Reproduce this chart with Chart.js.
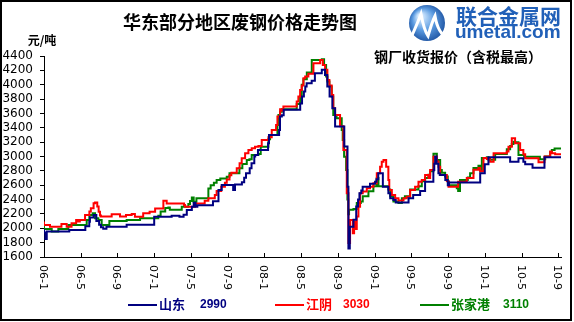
<!DOCTYPE html>
<html>
<head>
<meta charset="utf-8">
<script src="https://cdn.jsdelivr.net/npm/chart.js@4"></script>
<style>
  html, body { margin: 0; padding: 0; background: #fff; }
  canvas { display: block; }
</style>
</head>
<body>
<canvas id="c" width="574" height="322"></canvas>
<script>
// x = months since 2006-01, y = price (元/吨); each point starts a new step level
const xTickLabels = ['06-1', '06-5', '06-9', '07-1', '07-5', '07-9', '08-1', '08-5', '08-9',
    '09-1', '09-5', '09-9', '10-1', '10-5', '10-9'];

const shandong = [
    [0, 1990], [0.15, 1940], [0.3, 1850], [2.75, 1955], [4.5, 1975], [4.93, 2030], [5.0, 2090],
    [5.4, 2150], [5.7, 2185], [6.0, 2100], [6.2, 2050], [6.45, 2015], [6.8, 1995], [9.0, 2022],
    [12.0, 2050], [13.9, 2160], [14.75, 2175], [15.2, 2160], [15.55, 2190], [16.1, 2255],
    [16.3, 2300], [16.5, 2355], [16.7, 2300], [18.4, 2320], [19.0, 2375], [19.35, 2533],
    [20.6, 2603], [20.8, 2533], [21.55, 2610], [21.8, 2640], [22.0, 2705], [22.4, 2766],
    [22.6, 2835], [22.9, 2905], [23.0, 3000], [23.3, 3021], [24.4, 3091], [24.5, 3184],
    [25.6, 3300], [25.7, 3370], [25.9, 3556], [26.1, 3575], [27.9, 3650], [28.1, 3740],
    [28.3, 3835], [28.45, 3905], [28.6, 3975], [29.15, 4020], [29.5, 4055], [30.25, 4160],
    [30.6, 4207], [30.85, 4137], [31.1, 3974], [31.4, 3835], [31.7, 3672], [32.7, 3419],
    [33.05, 3138], [33.15, 2580], [33.3, 1720], [33.7, 2023], [34.0, 2120], [34.2, 2302],
    [34.35, 2400], [34.55, 2488], [34.7, 2525], [35.5, 2580], [36.05, 2620], [36.2, 2649],
    [36.4, 2682], [36.9, 2766], [37.5, 2580], [37.7, 2488], [38.05, 2420], [38.3, 2395],
    [39.7, 2358], [40.2, 2420], [40.96, 2463], [41.5, 2520], [42.4, 2650], [42.5, 2812],
    [42.6, 2900], [42.75, 3000], [42.95, 2900], [43.1, 2766], [43.7, 2742], [43.97, 2672],
    [44.1, 2600], [47.5, 2637], [48.0, 2765], [48.4, 2891], [50.76, 2988], [51.67, 2928],
    [52.2, 2974], [52.4, 2928], [53.2, 2891], [54.5, 2845], [55.66, 2990], [56.3, 2990]
];

const jiangyin = [
    [0, 2093], [0.65, 2047], [1.9, 2023], [2.47, 2060], [3.0, 2023], [3.5, 2070], [3.7, 2116],
    [3.9, 2093], [4.47, 2116], [4.94, 2186], [5.1, 2233], [5.4, 2279], [5.56, 2349], [5.8, 2358],
    [5.95, 2302], [6.1, 2230], [6.2, 2177], [7.37, 2163], [8.28, 2195], [8.93, 2163],
    [9.55, 2186], [9.9, 2200], [10.8, 2161], [11.5, 2208], [12.1, 2231], [13.0, 2277],
    [13.36, 2384], [15.25, 2347], [15.35, 2324], [16.45, 2300], [17.5, 2347], [17.9, 2384],
    [18.6, 2420], [18.8, 2465], [19.3, 2520], [19.7, 2580], [19.9, 2635], [20.2, 2680],
    [20.4, 2738], [20.99, 2775], [21.3, 2835], [21.53, 2905], [21.9, 2975], [22.26, 3044],
    [22.62, 3091], [22.98, 3114], [23.35, 3137], [23.71, 3147], [24.44, 3230], [24.8, 3267],
    [25.27, 3370], [25.42, 3440], [25.71, 3556], [25.89, 3658], [26.07, 3639], [27.52, 3695],
    [27.7, 3765], [27.89, 3835], [28.07, 3928], [28.25, 3990], [28.44, 4091], [28.79, 4114],
    [29.34, 4151], [30.07, 4300], [30.36, 4346], [30.61, 4276], [30.86, 4207], [31.08, 4067],
    [31.33, 3990], [31.5, 3858], [31.7, 3672], [32.24, 3579], [32.6, 3420], [32.97, 3091],
    [33.15, 2488], [33.33, 1795], [33.63, 2116], [33.77, 1930], [33.88, 2093], [34.06, 1990],
    [34.24, 2163], [34.42, 2300], [34.71, 2488], [35.15, 2511], [35.5, 2557], [35.87, 2580],
    [36.24, 2626], [36.6, 2766], [36.78, 2858], [36.97, 2928], [37.26, 2951], [37.5, 2858],
    [37.6, 2672], [37.88, 2534], [38.24, 2463], [38.6, 2417], [39.15, 2386], [39.5, 2417],
    [39.87, 2440], [40.41, 2534], [40.78, 2580], [41.14, 2649], [41.5, 2672], [41.87, 2742],
    [42.05, 2700], [42.41, 2812], [42.78, 2998], [42.96, 2930], [43.14, 2858], [43.5, 2742],
    [43.87, 2742], [44.05, 2658], [45.1, 2579], [46.04, 2649], [46.77, 2700], [47.31, 2816],
    [47.5, 2840], [47.86, 2793], [48.22, 2979], [48.58, 2965], [48.96, 2928], [50.4, 3044],
    [50.58, 3068], [50.94, 3137], [51.3, 3253], [51.85, 3183], [52.2, 3090], [52.4, 3030],
    [53.85, 2975], [54.5, 2919], [55.12, 3000], [55.3, 3068], [55.66, 3044], [55.8, 3030],
    [56.3, 3030]
];

const zhangjiagang = [
    [0, 2047], [0.84, 1991], [1.56, 1954], [2.65, 1991], [4.65, 2047], [4.94, 2116], [5.3, 2186],
    [5.56, 2209], [5.92, 2140], [6.28, 2116], [7.12, 2047], [9.0, 2102], [10.46, 2115],
    [12.45, 2140], [12.7, 2175], [13.2, 2235], [13.54, 2282], [13.7, 2291], [15.0, 2258],
    [15.72, 2300], [15.9, 2340], [16.1, 2380], [16.3, 2429], [16.6, 2370], [17.9, 2420],
    [18.15, 2555], [18.5, 2600], [18.8, 2635], [19.2, 2672], [19.9, 2695], [20.2, 2718],
    [21.28, 2765], [21.6, 2835], [22.08, 2896], [22.37, 2951], [22.62, 2960], [23.35, 3021],
    [23.6, 3035], [24.44, 3137], [24.62, 3239], [25.42, 3300], [25.53, 3440], [25.71, 3579],
    [25.89, 3625], [27.52, 3658], [27.89, 3733], [28.07, 3835], [28.25, 3998], [28.62, 4077],
    [29.16, 4170], [30.25, 4346], [30.5, 4355], [30.72, 4276], [30.86, 4114], [31.08, 4044],
    [31.33, 3974], [31.5, 3835], [31.86, 3579], [32.42, 3533], [32.53, 3370], [32.68, 3230],
    [32.9, 2998], [33.04, 2812], [33.13, 2400], [33.22, 2197], [33.7, 2258], [34.06, 2267],
    [34.5, 2351], [34.71, 2374], [35.33, 2446], [35.87, 2516], [36.24, 2585], [36.42, 2700],
    [37.5, 2585], [37.7, 2539], [38.05, 2446], [38.6, 2374], [38.97, 2351], [39.3, 2420],
    [39.87, 2446], [40.78, 2539], [41.14, 2585], [41.5, 2655], [41.87, 2700], [42.05, 2746],
    [42.41, 2793], [42.78, 3040], [43.14, 2950], [43.32, 2812], [43.68, 2775], [43.97, 2720],
    [44.1, 2649], [44.95, 2600], [45.1, 2556], [45.3, 2519], [46.15, 2672], [46.4, 2709],
    [46.77, 2765], [47.31, 2840], [47.5, 2870], [47.68, 2793], [48.22, 2979], [48.4, 2988],
    [49.13, 2956], [50.4, 3035], [50.76, 3100], [50.94, 3146], [51.12, 3175], [51.3, 3206],
    [51.67, 3197], [52.28, 3021], [54.0, 2998], [54.58, 2961], [55.12, 3000], [55.3, 3060],
    [55.6, 3090], [56.0, 3110], [56.3, 3110]
];

const seriesNames = ['山东', '江阴', '张家港'];
const seriesLatest = ['2990', '3030', '3110'];
const seriesColors = ['#000080', '#ff0000', '#008000'];
const seriesData = [shandong, jiangyin, zhangjiagang];

const cjk = '"Noto Sans CJK SC", sans-serif';

// texts, logo, legend, rotated month labels, frame
const decorPlugin = {
    id: 'decor',
    beforeDraw(chart) {
        const ctx = chart.ctx;
        ctx.save();
        ctx.fillStyle = '#fff';
        ctx.fillRect(0, 0, chart.width, chart.height);
        ctx.restore();
    },
    afterDraw(chart) {
        const ctx = chart.ctx;
        const xs = chart.scales.x;
        const area = chart.chartArea;
        ctx.save();

        // x tick marks pointing inward + labels reading downward
        ctx.strokeStyle = '#000';
        ctx.lineWidth = 1;
        ctx.fillStyle = '#000';
        ctx.font = '11px "DejaVu Sans"';
        ctx.textAlign = 'left';
        ctx.textBaseline = 'middle';
        xs.ticks.forEach((t, i) => {
            const px = Math.round(xs.getPixelForValue(t.value)) + 0.5;
            ctx.beginPath();
            ctx.moveTo(px, area.bottom);
            ctx.lineTo(px, area.bottom - 4);
            ctx.stroke();
            ctx.save();
            ctx.translate(px - 2, 265);
            ctx.rotate(Math.PI / 2);
            ctx.fillText(xTickLabels[i], 0, 0);
            ctx.restore();
        });

        // title and unit
        ctx.textBaseline = 'middle';
        ctx.textAlign = 'center';
        ctx.font = 'bold 18px ' + cjk;
        ctx.fillText('华东部分地区废钢价格走势图', 240, 22);
        ctx.font = 'bold 12px ' + cjk;
        ctx.fillText('元/吨', 42, 40);
        ctx.textAlign = 'left';
        ctx.font = 'bold 14px ' + cjk;
        ctx.fillText('钢厂收货报价（含税最高）', 374, 57);

        // logo
        const g = ctx.createRadialGradient(420, 16, 2, 427, 23, 20);
        g.addColorStop(0, '#d8ecff');
        g.addColorStop(0.5, '#5a9ae0');
        g.addColorStop(1, '#1a4f9e');
        ctx.fillStyle = g;
        ctx.beginPath();
        ctx.arc(427, 23, 18, 0, Math.PI * 2);
        ctx.fill();
        ctx.strokeStyle = '#fff';
        ctx.lineWidth = 3;
        ctx.beginPath();
        ctx.moveTo(410, 40);
        ctx.quadraticCurveTo(418, 22, 421, 14);
        ctx.quadraticCurveTo(424, 30, 428, 36);
        ctx.quadraticCurveTo(432, 22, 435, 16);
        ctx.quadraticCurveTo(438, 34, 448, 38);
        ctx.stroke();
        ctx.fillStyle = '#2160b8';
        ctx.font = 'bold 21px ' + cjk;
        ctx.fillText('联合金属网', 456, 16);
        ctx.font = 'bold 19px "Liberation Sans"';
        ctx.fillText('umetal.com', 455, 33);

        // legend
        const legendX = [128, 275, 420];
        const numX = [200, 343, 503];
        seriesNames.forEach((name, i) => {
            ctx.strokeStyle = seriesColors[i];
            ctx.fillStyle = seriesColors[i];
            ctx.lineWidth = 2;
            ctx.beginPath();
            ctx.moveTo(legendX[i], 305);
            ctx.lineTo(legendX[i] + 29, 305);
            ctx.stroke();
            ctx.font = 'bold 13px ' + cjk;
            ctx.fillText(name, legendX[i] + 31, 304);
            ctx.font = 'bold 12px "Liberation Sans"';
            ctx.fillText(seriesLatest[i], numX[i], 305);
        });

        // outer frame
        ctx.strokeStyle = '#000';
        ctx.lineWidth = 2;
        ctx.strokeRect(1, 1, 570, 319);
        ctx.restore();
    }
};

new Chart(document.getElementById('c'), {
    type: 'line',
    data: {
        datasets: seriesData.map((d, i) => ({
            label: seriesNames[i],
            data: d.map(p => ({ x: p[0], y: p[1] })),
            borderColor: seriesColors[i],
            borderWidth: 2,
            pointRadius: 0,
            stepped: 'after',
            fill: false
        }))
    },
    options: {
        responsive: false,
        animation: false,
        devicePixelRatio: 1,
        layout: { padding: { left: 0, top: 56, right: 13, bottom: 0 } },
        plugins: {
            legend: { display: false },
            title: { display: false },
            tooltip: { enabled: false }
        },
        scales: {
            x: {
                type: 'linear',
                min: 0,
                max: 56.3,
                afterBuildTicks: (scale) => {
                    scale.ticks = xTickLabels.map((l, i) => ({ value: i * 4 }));
                },
                afterFit: (scale) => { scale.height = 65; },
                ticks: { display: false },
                grid: { drawOnChartArea: false, drawTicks: false },
                border: { color: '#000', width: 1 }
            },
            y: {
                min: 1600,
                max: 4400,
                afterFit: (scale) => { scale.width = 44; },
                ticks: {
                    stepSize: 200,
                    autoSkip: false,
                    color: '#000',
                    padding: 7,
                    font: { family: '"DejaVu Sans"', size: 12 },
                    callback: (v) => String(v)
                },
                grid: { drawOnChartArea: false, tickLength: 4, color: '#000' },
                border: { color: '#000', width: 1 }
            }
        }
    },
    plugins: [decorPlugin]
});
</script>
</body>
</html>
